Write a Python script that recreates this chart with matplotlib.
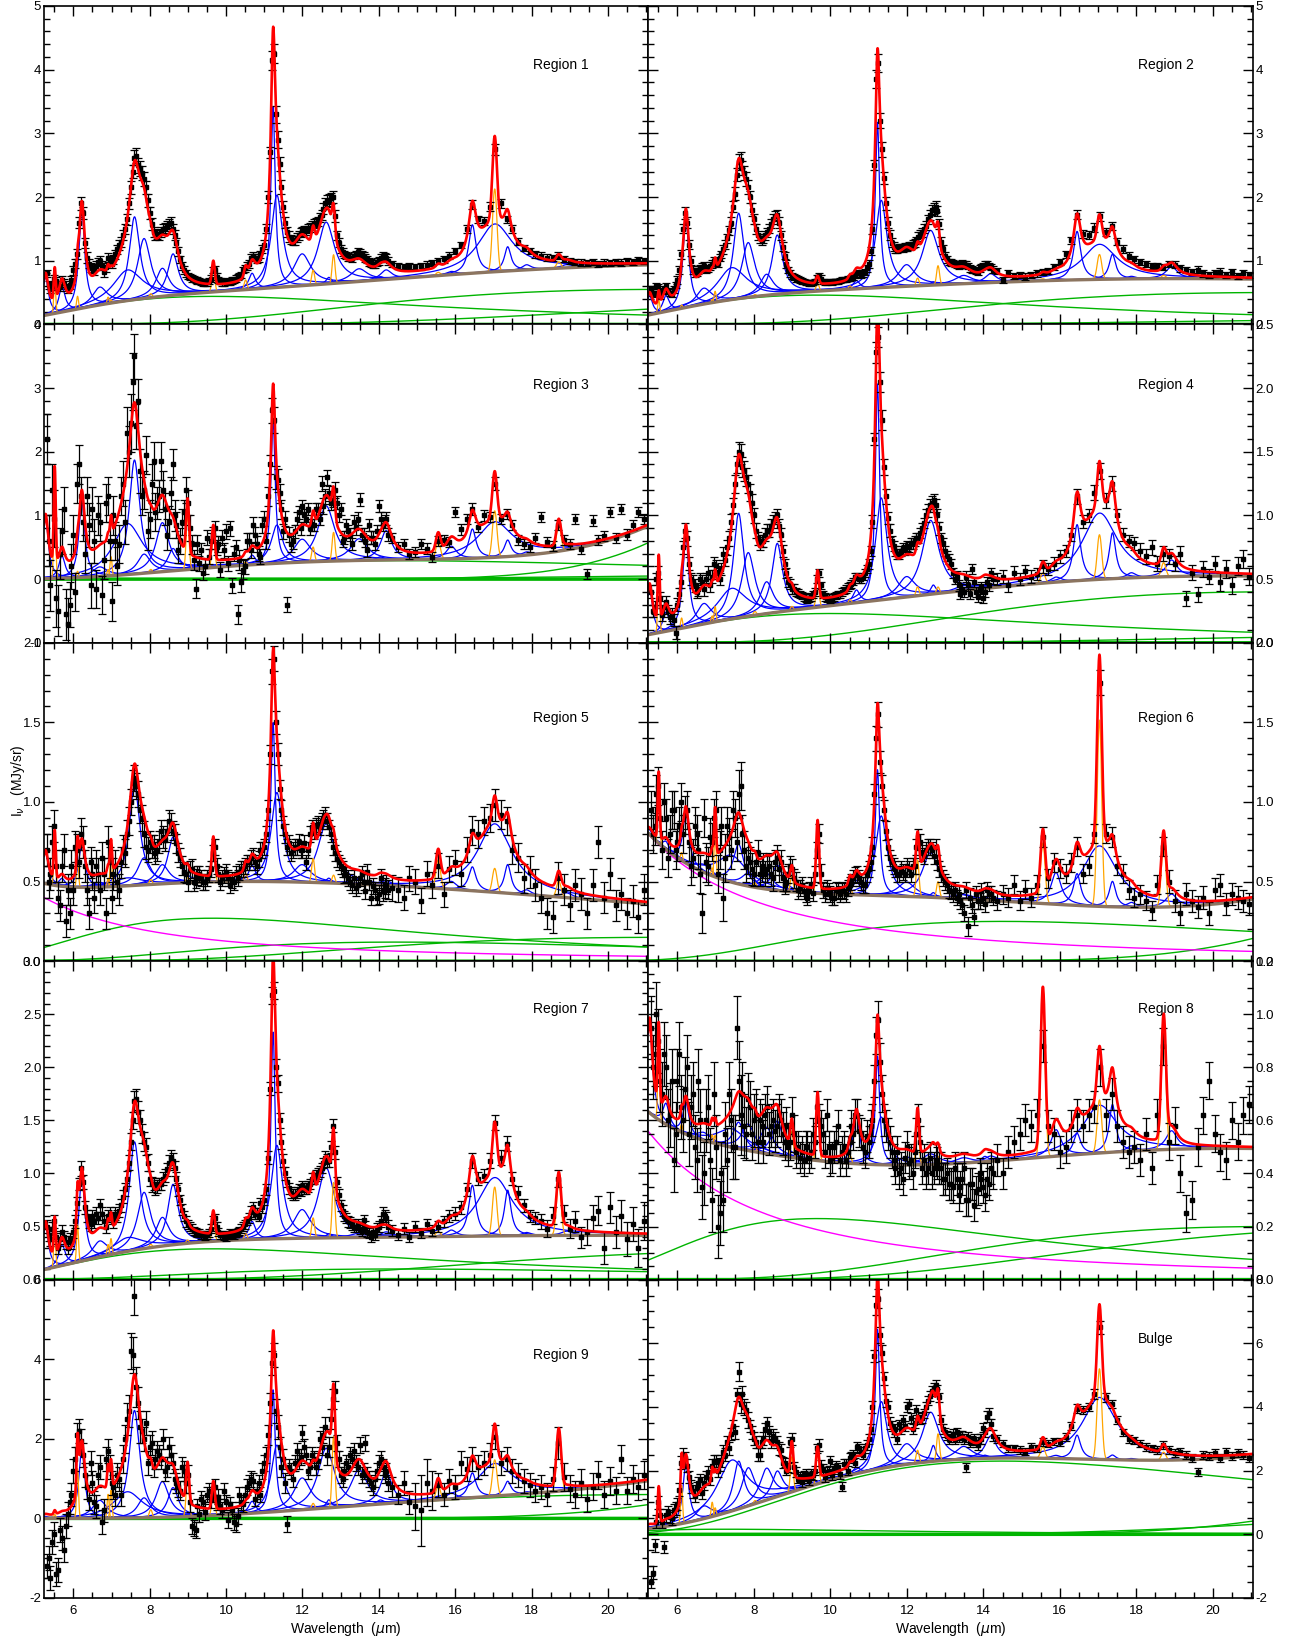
import numpy as np
import matplotlib
matplotlib.use('Agg')
import matplotlib.pyplot as plt
from matplotlib.ticker import MultipleLocator, FormatStrFormatter

plt.rcParams['font.family'] = ['Liberation Sans', 'DejaVu Sans']
plt.rcParams['axes.unicode_minus'] = False

# wavelength grid of the spectra (um): SL then LL
wave = ("5.3 5.4 5.5 5.6 5.7 5.8 5.9 6.0 6.1 6.2 "
        "6.3 6.4 6.5 6.6 6.7 6.8 6.9 7.0 7.1 7.2 "
        "7.3 7.4 7.5 7.6 7.7 7.8 7.9 8.0 8.1 8.2 "
        "8.3 8.4 8.5 8.6 8.7 8.8 8.9 9.0 9.1 9.2 "
        "9.3 9.4 9.5 9.6 9.7 9.8 9.9 10.0 10.1 10.2 "
        "10.3 10.4 10.5 10.6 10.7 10.8 10.9 11.0 11.1 11.2 "
        "11.3 11.4 11.5 11.6 11.7 11.8 11.9 12.0 12.1 12.2 "
        "12.3 12.4 12.5 12.6 12.7 12.8 12.9 13.0 13.1 13.2 "
        "13.3 13.4 13.5 13.6 13.7 13.8 13.9 14.0 14.1 14.2 "
        "14.35 14.5 14.65 14.8 14.95 15.1 15.25 15.4 15.55 15.7 "
        "15.85 16.0 16.15 16.3 16.45 16.6 16.75 16.9 17.05 17.2 "
        "17.35 17.5 17.65 17.8 17.95 18.1 18.25 18.4 18.55 18.7 "
        "18.85 19.0 19.15 19.3 19.45 19.6 19.75 19.9 20.05 20.2 "
        "20.35 20.5 20.65 20.8 20.95")
# interleaved SL samples
wave_mid = ("5.35 5.45 5.55 5.65 5.75 5.85 5.95 6.05 6.15 6.25 "
            "6.35 6.45 6.55 6.65 6.75 6.85 6.95 7.05 7.15 7.25 "
            "7.35 7.45 7.55 7.65 7.75 7.85 7.95 8.05 8.15 8.25 "
            "8.35 8.45 8.55 8.65 8.75 8.85 8.95 9.05 9.15 9.25 "
            "9.35 9.45 9.55 9.65 9.75 9.85 9.95 10.05 10.15 10.25 "
            "10.35 10.45 10.55 10.65 10.75 10.85 10.95 11.05 11.15 11.25 "
            "11.35 11.45 11.55 11.65 11.75 11.85 11.95 12.05 12.15 12.25 "
            "12.35 12.45 12.55 12.65 12.75 12.85 12.95 13.05 13.15 13.25 "
            "13.35 13.45 13.55 13.65 13.75 13.85 13.95 14.05 14.15 14.25")

# PAH features (Drude): centre (um) and fractional FWHM
pah_wave = [5.27, 5.70, 6.22, 6.69, 7.42, 7.60, 7.85, 8.33, 8.61, 10.68, 11.23, 11.33,
            11.99, 12.62, 12.69, 13.48, 14.04, 14.19, 15.90, 16.45, 17.04, 17.375, 17.87, 18.92]
pah_frac = [0.034, 0.035, 0.030, 0.07, 0.126, 0.044, 0.053, 0.05, 0.039, 0.02, 0.012, 0.032,
            0.045, 0.042, 0.013, 0.04, 0.016, 0.025, 0.02, 0.014, 0.065, 0.012, 0.016, 0.019]
# atomic / H2 lines (Gaussian): centre and FWHM (um)
line_wave = [5.511, 6.109, 6.909, 6.985, 8.026, 8.991, 9.665, 10.511, 12.279, 12.814, 15.555, 17.035, 18.713]
line_fwhm = [0.06, 0.06, 0.06, 0.06, 0.09, 0.09, 0.09, 0.09, 0.09, 0.09, 0.14, 0.14, 0.14]

# fit results: PAH peaks, line peaks, dust (T, peak), stellar level at 5.23 um
# spectra: flux and error in units of 0.01 MJy/sr
r1_pah = [0.60, 0.40, 1.52, 0.28, 0.48, 1.30, 0.94, 0.44, 0.65, 0.25, 2.85, 1.45, 0.50, 0.97, 0.10, 0.20, 0.05, 0.15, 0.05, 0.76, 0.75, 0.38, 0.08, 0.05]
r1_line = [0.50, 0.20, 0.10, 0.05, 0.06, 0.00, 0.37, 0.15, 0.23, 0.45, 0.05, 1.30, 0.10]
r1_dust = [(300, 0.44), (135, 0.55), (90, 0.40)]
r1_star = 0.0
r1_flux = ("80 55 72 62 70 58 62 85 110 190 "
           "128 95 88 92 100 82 105 95 110 125 "
           "140 165 215 262 250 238 215 175 145 142 "
           "145 152 158 150 128 102 85 76 72 70 "
           "68 66 66 72 86 70 66 68 67 70 "
           "74 78 88 95 108 102 110 125 200 415 "
           "330 252 185 145 134 132 140 146 148 152 "
           "158 162 172 190 195 200 140 118 110 106 "
           "104 110 112 108 102 96 95 100 108 104 "
           "95 92 90 92 90 91 94 96 100 102 "
           "108 115 125 150 188 165 162 185 275 190 "
           "165 150 130 120 115 110 108 105 104 108 "
           "103 100 98 97 96 98 95 97 96 98 "
           "97 100 98 101 100")
r1_mid = ("62 60 68 58 65 55 70 95 160 175 "
          "105 90 85 98 92 90 100 102 118 130 "
          "150 190 240 265 245 228 195 158 140 140 "
          "150 155 160 140 115 92 80 74 71 69 "
          "67 65 68 85 75 68 66 67 69 72 "
          "76 85 92 105 105 104 118 150 270 425 "
          "290 215 160 138 132 136 144 148 150 156 "
          "160 168 182 194 198 170 128 114 108 105 "
          "108 114 110 104 98 95 98 104 106 100")
r1_err = ("6 6 6 6 6 6 6 7 8 10 "
          "8 7 7 7 7 7 7 7 7 8 "
          "8 9 10 12 12 11 10 9 8 8 "
          "8 8 8 8 7 6 6 5 5 5 "
          "5 5 5 5 6 5 5 5 5 5 "
          "5 5 6 6 6 6 6 7 9 15 "
          "13 11 9 8 7 7 7 7 7 7 "
          "7 7 8 9 9 9 7 6 6 6 "
          "6 6 6 6 6 6 6 6 6 6 "
          "5 5 5 5 5 5 5 5 5 5 "
          "5 5 5 6 7 6 6 7 9 7 "
          "6 6 5 5 5 5 5 5 5 5 "
          "5 5 5 5 5 5 5 5 5 5 "
          "5 5 5 5 5")

r2_pah = [0.30, 0.25, 1.40, 0.25, 0.50, 1.34, 0.86, 0.33, 0.93, 0.13, 2.60, 1.37, 0.34, 0.86, 0.05, 0.13, 0.03, 0.14, 0.03, 0.76, 0.55, 0.39, 0.04, 0.19]
r2_line = [0.20, 0.05, 0.05, 0.17, 0.03, 0.00, 0.12, 0.05, 0.12, 0.30, 0.03, 0.39, 0.05]
r2_dust = [(300, 0.46), (135, 0.50), (90, 0.10)]
r2_star = 0.0
r2_flux = ("55 48 58 52 60 50 55 70 110 175 "
           "125 85 82 88 92 88 95 98 105 118 "
           "135 160 205 255 245 228 200 165 140 132 "
           "140 150 165 172 140 108 85 76 72 70 "
           "67 66 65 68 76 68 66 67 68 68 "
           "70 71 72 75 80 78 82 95 150 385 "
           "320 230 160 128 118 120 120 122 124 128 "
           "138 145 155 172 182 178 130 108 98 96 "
           "94 93 95 92 86 84 88 92 95 90 "
           "84 70 80 76 78 75 78 80 82 84 "
           "90 98 110 132 172 142 140 152 170 145 "
           "155 130 118 108 102 98 95 92 92 90 "
           "95 94 88 85 82 86 80 78 80 83 "
           "78 82 76 80 78")
r2_mid = ("50 60 45 55 52 48 62 85 150 160 "
          "100 80 85 90 86 92 100 96 110 125 "
          "148 185 235 258 238 215 180 150 135 135 "
          "145 158 170 160 122 95 80 74 71 68 "
          "66 65 66 74 72 66 67 66 68 69 "
          "70 72 74 78 80 80 88 115 250 410 "
          "275 190 140 122 118 121 122 123 126 132 "
          "142 150 165 180 185 158 118 102 97 95 "
          "92 96 94 88 85 82 90 94 92 86")
r2_err = ("5 5 5 5 5 5 5 6 7 9 "
          "7 6 6 6 6 6 6 6 6 7 "
          "7 8 10 12 11 11 10 8 7 7 "
          "7 7 8 8 7 6 5 5 5 5 "
          "4 4 4 4 5 4 4 4 4 4 "
          "4 4 4 5 5 5 5 6 8 14 "
          "12 10 8 7 6 6 6 6 6 6 "
          "7 7 7 8 8 8 7 6 5 5 "
          "5 5 5 5 5 5 5 5 5 5 "
          "5 5 5 5 5 5 5 5 5 5 "
          "5 5 6 6 7 6 6 7 7 6 "
          "6 6 6 5 5 5 5 5 5 5 "
          "5 5 5 5 5 5 5 5 5 5 "
          "5 5 5 5 5")

r3_pah = [0.95, 0.35, 1.20, 0.15, 0.80, 1.79, 0.30, 0.77, 0.35, 0.15, 2.25, 0.60, 0.36, 0.87, 0.05, 0.34, 0.05, 0.46, 0.20, 0.46, 0.56, 0.26, 0.05, 0.03]
r3_line = [1.50, 0.10, 0.10, 0.30, 0.05, 0.85, 0.55, 0.05, 0.23, 0.45, 0.28, 0.73, 0.42]
r3_dust = [(200, 0.29), (45, 59.0), (90, 0.08)]
r3_star = 0.0
r3_flux = ("220 -10 95 -50 75 -55 -40 70 150 130 "
           "40 85 110 -15 90 30 130 -35 60 55 "
           "150 230 245 350 280 130 195 95 185 120 "
           "185 110 90 180 85 60 105 120 55 -15 "
           "25 10 65 60 80 55 65 75 80 40 "
           "-55 -5 20 60 85 55 35 95 130 265 "
           "160 135 75 -40 55 75 105 115 95 80 "
           "85 110 150 130 135 125 120 110 65 75 "
           "55 80 125 70 45 65 55 115 85 95 "
           "65 50 55 40 42 55 48 35 60 62 "
           "58 105 78 95 110 82 100 98 150 95 "
           "102 85 62 55 50 65 98 58 52 85 "
           "62 55 95 48 8 92 62 68 105 65 "
           "110 70 85 105 95")
r3_mid = ("60 140 -30 40 110 -70 20 -20 180 90 "
          "130 -10 60 100 -25 120 60 100 20 130 "
          "90 200 310 240 170 140 75 150 105 130 "
          "140 70 135 100 45 90 140 80 30 55 "
          "45 20 35 70 50 15 45 25 -10 50 "
          "30 15 60 45 70 40 85 60 180 250 "
          "155 110 95 70 60 95 80 100 110 85 "
          "110 95 115 160 120 140 100 60 85 70 "
          "90 95 70 60 85 65 75 95 90 70")
r3_err = ("40 40 45 40 35 40 35 30 30 30 "
          "30 35 35 30 30 30 30 30 30 30 "
          "35 40 45 35 35 30 30 30 30 25 "
          "30 25 25 25 20 20 20 20 15 15 "
          "12 12 12 12 12 12 12 12 12 12 "
          "15 15 12 12 12 12 12 12 15 20 "
          "18 15 12 12 12 10 10 10 10 10 "
          "10 10 12 12 12 12 10 10 10 10 "
          "10 10 10 10 10 10 10 10 10 10 "
          "8 8 8 8 8 8 8 8 8 8 "
          "8 8 8 8 10 8 8 8 10 8 "
          "8 8 8 8 8 8 8 8 8 8 "
          "8 8 8 8 8 8 8 8 8 8 "
          "8 8 8 8 8")

r4_pah = [0.37, 0.15, 0.72, 0.16, 0.24, 0.82, 0.50, 0.25, 0.54, 0.10, 1.70, 0.80, 0.16, 0.58, 0.07, 0.04, 0.03, 0.03, 0.04, 0.44, 0.52, 0.36, 0.04, 0.13]
r4_line = [0.50, 0.08, 0.05, 0.12, 0.03, 0.03, 0.22, 0.03, 0.07, 0.05, 0.08, 0.35, 0.11]
r4_dust = [(290, 0.23), (135, 0.40), (90, 0.07)]
r4_star = 0.0
r4_flux = ("40 28 55 22 32 20 18 30 48 88 "
           "62 48 40 50 42 55 52 60 50 70 "
           "75 95 125 150 138 130 118 100 82 80 "
           "85 88 95 100 85 62 48 42 40 38 "
           "36 34 36 40 55 38 35 34 36 38 "
           "40 42 45 48 52 50 55 62 95 228 "
           "205 138 98 80 72 70 74 76 78 80 "
           "82 90 100 108 112 100 82 72 66 55 "
           "52 38 40 45 58 40 42 35 48 55 "
           "50 52 45 55 50 56 52 54 60 58 "
           "62 68 72 85 115 95 100 118 135 112 "
           "125 100 85 80 78 72 68 75 62 70 "
           "68 62 70 35 55 38 58 52 62 48 "
           "58 45 60 66 52")
r4_mid = ("25 50 35 28 25 22 8 38 75 82 "
          "50 45 42 48 50 45 62 55 58 65 "
          "82 108 140 148 135 125 110 88 78 80 "
          "88 92 98 92 72 55 46 42 39 37 "
          "35 35 38 50 45 36 35 35 37 38 "
          "41 44 46 52 50 52 58 72 160 240 "
          "175 115 88 76 70 72 73 75 78 82 "
          "86 94 104 110 108 90 78 68 62 50 "
          "45 42 52 38 48 36 44 40 45 50")
r4_err = ("5 5 5 5 5 5 5 5 5 6 "
          "5 5 5 5 5 5 5 5 5 5 "
          "6 6 7 8 8 7 7 6 5 5 "
          "5 5 5 5 5 4 4 4 3 3 "
          "3 3 3 3 3 3 3 3 3 3 "
          "3 3 3 3 3 3 3 4 5 8 "
          "8 6 5 4 4 4 4 4 4 4 "
          "4 4 5 5 5 5 4 4 4 4 "
          "4 4 4 4 4 4 4 4 4 4 "
          "5 5 5 5 5 5 5 5 5 5 "
          "5 5 5 5 6 5 5 6 6 6 "
          "6 5 5 5 5 6 6 6 6 6 "
          "6 6 6 6 6 6 6 6 6 7 "
          "7 7 7 7 7")

r5_pah = [0.20, 0.05, 0.28, 0.03, 0.05, 0.63, 0.17, 0.12, 0.29, 0.10, 1.00, 0.56, 0.11, 0.37, 0.03, 0.03, 0.02, 0.03, 0.05, 0.15, 0.43, 0.18, 0.03, 0.03]
r5_line = [0.30, 0.18, 0.05, 0.20, 0.03, 0.03, 0.25, 0.05, 0.15, 0.05, 0.18, 0.15, 0.10]
r5_dust = [(300, 0.27), (200, 0.12), (135, 0.15)]
r5_star = 0.40
r5_flux = ("70 55 85 40 60 25 30 45 70 80 "
           "60 30 55 60 45 55 75 40 60 45 "
           "70 80 100 115 105 90 72 75 72 70 "
           "82 76 88 82 74 65 56 50 58 52 "
           "55 50 52 58 72 55 52 56 48 50 "
           "52 58 60 62 66 60 70 72 95 182 "
           "150 108 85 72 68 72 75 70 62 80 "
           "82 86 88 92 84 72 64 60 54 52 "
           "48 46 52 50 56 40 45 42 44 48 "
           "46 45 40 52 50 38 55 48 60 42 "
           "58 62 55 70 82 80 88 90 98 92 "
           "88 70 65 52 56 48 40 30 28 52 "
           "45 35 48 42 30 48 75 40 55 35 "
           "42 30 38 28 45")
r5_mid = ("50 75 60 35 70 45 60 72 62 75 "
          "45 62 40 55 65 30 62 55 50 62 "
          "68 88 112 110 95 80 70 72 68 75 "
          "78 82 86 80 68 60 55 57 50 54 "
          "52 50 55 68 60 50 54 52 51 55 "
          "56 58 62 65 62 64 70 80 130 190 "
          "130 95 80 74 70 72 70 74 70 84 "
          "85 84 90 88 80 68 62 58 55 50 "
          "52 48 55 44 50 47 40 52 46 45")
r5_err = ("10 10 10 10 10 10 10 10 10 10 "
          "10 10 10 10 10 10 10 10 10 10 "
          "9 9 8 8 8 8 8 7 7 7 "
          "7 7 7 6 6 6 6 6 6 6 "
          "5 5 5 5 5 5 5 5 5 5 "
          "5 5 5 5 5 5 5 5 6 8 "
          "7 6 6 5 5 5 5 5 5 5 "
          "5 5 5 5 5 5 5 5 5 5 "
          "5 5 5 5 5 5 5 6 6 6 "
          "8 8 8 8 8 8 8 8 8 8 "
          "8 8 8 8 9 9 9 9 10 9 "
          "9 9 9 9 10 10 10 10 10 10 "
          "10 10 10 10 10 10 10 10 10 10 "
          "10 10 10 10 10")

r6_pah = [0.03, 0.05, 0.32, 0.05, 0.17, 0.25, 0.08, 0.10, 0.16, 0.09, 0.79, 0.50, 0.09, 0.28, 0.03, 0.03, 0.02, 0.03, 0.20, 0.20, 0.38, 0.16, 0.03, 0.08]
r6_line = [0.42, 0.05, 0.05, 0.30, 0.03, 0.10, 0.43, 0.05, 0.23, 0.10, 0.38, 1.17, 0.40]
r6_dust = [(200, 0.25), (50, 5.5)]
r6_star = 0.80
r6_flux = ("95 85 110 70 90 80 95 75 100 92 "
           "75 65 80 55 90 60 75 95 70 40 "
           "85 70 90 105 80 60 62 55 68 58 "
           "55 60 52 65 62 48 55 58 50 46 "
           "44 40 48 55 80 45 46 42 40 44 "
           "45 42 48 52 55 50 48 58 72 140 "
           "125 95 72 62 58 55 56 60 55 60 "
           "78 68 70 72 66 62 55 50 45 42 "
           "40 38 30 22 35 42 38 40 45 42 "
           "38 42 40 48 38 45 40 48 78 52 "
           "62 58 55 62 72 55 60 80 175 80 "
           "78 60 55 45 40 42 38 32 48 72 "
           "50 38 30 42 38 34 40 30 45 48 "
           "36 42 40 38 36")
r6_mid = ("80 105 90 100 65 95 70 85 80 95 "
          "60 85 70 30 62 78 90 55 85 65 "
          "78 95 75 110 70 65 58 62 55 60 "
          "58 55 62 58 52 50 60 52 45 48 "
          "42 45 43 70 55 42 44 40 45 42 "
          "44 46 50 54 52 48 55 62 105 155 "
          "110 82 65 60 55 58 55 58 60 72 "
          "75 66 72 70 72 58 52 48 44 45 "
          "42 35 45 40 28 38 44 36 42 40")
r6_err = ("12 12 12 12 12 12 12 12 12 12 "
          "12 12 12 12 12 12 12 12 12 15 "
          "12 12 12 15 12 10 10 8 8 8 "
          "8 8 8 8 8 6 6 6 6 5 "
          "5 5 5 5 6 5 5 5 5 5 "
          "5 5 5 5 5 5 5 5 6 8 "
          "7 6 5 5 5 5 5 5 5 5 "
          "5 5 5 5 5 5 5 5 5 5 "
          "5 5 5 6 5 5 5 5 5 5 "
          "6 6 6 6 6 6 6 6 6 6 "
          "6 6 6 6 6 6 6 6 8 6 "
          "6 6 6 6 6 6 6 6 6 6 "
          "7 7 7 7 7 7 7 7 7 7 "
          "7 7 7 7 7")

r7_pah = [0.42, 0.20, 0.80, 0.15, 0.13, 1.02, 0.53, 0.27, 0.57, 0.17, 1.95, 0.88, 0.27, 0.66, 0.04, 0.04, 0.02, 0.05, 0.06, 0.48, 0.55, 0.43, 0.03, 0.04]
r7_line = [0.35, 0.35, 0.10, 0.15, 0.03, 0.03, 0.22, 0.06, 0.19, 0.52, 0.05, 0.46, 0.51]
r7_dust = [(300, 0.29), (200, 0.10), (110, 0.28)]
r7_star = 0.0
r7_flux = ("50 38 55 30 45 35 38 45 72 105 "
           "68 55 60 62 70 55 60 58 62 65 "
           "78 95 130 168 158 138 125 95 90 88 "
           "90 98 110 112 95 75 60 52 48 45 "
           "44 42 42 48 58 45 42 40 44 42 "
           "45 48 52 58 68 62 72 75 115 268 "
           "200 150 112 92 82 80 85 88 86 90 "
           "95 100 105 115 112 145 92 70 60 55 "
           "52 50 48 56 45 40 42 50 62 58 "
           "46 42 48 40 50 44 52 46 50 55 "
           "60 62 68 85 112 95 98 112 148 115 "
           "128 95 82 70 60 58 55 48 60 95 "
           "62 48 55 40 45 58 65 30 68 45 "
           "60 38 52 30 55")
r7_mid = ("42 48 40 38 40 30 35 55 90 92 "
          "60 52 55 58 62 50 62 55 60 70 "
          "85 110 150 170 150 130 110 90 86 90 "
          "95 104 115 105 85 66 55 50 46 44 "
          "42 41 44 56 50 42 41 42 43 44 "
          "46 50 55 64 62 60 68 85 180 272 "
          "185 130 100 86 80 82 84 86 88 95 "
          "98 102 110 112 125 120 80 65 58 54 "
          "50 52 46 50 44 45 48 55 60 50")
r7_err = ("6 6 6 6 6 6 6 6 6 7 "
          "6 6 6 6 6 6 6 6 6 6 "
          "6 7 8 10 10 9 8 7 6 6 "
          "6 6 7 7 6 5 5 4 4 4 "
          "4 4 4 4 4 4 4 4 4 4 "
          "4 4 4 5 5 5 5 5 6 8 "
          "8 7 6 5 5 5 5 5 5 5 "
          "5 5 5 6 6 6 5 5 5 5 "
          "5 5 5 5 5 5 5 5 6 6 "
          "5 5 5 5 5 5 5 5 5 5 "
          "6 6 6 6 7 6 6 7 7 7 "
          "7 6 6 6 6 6 7 8 8 8 "
          "8 9 10 10 12 12 14 15 15 15 "
          "15 16 16 18 18")

r8_pah = [0.35, 0.08, 0.12, 0.03, 0.07, 0.10, 0.10, 0.10, 0.13, 0.18, 0.41, 0.18, 0.03, 0.04, 0.03, 0.02, 0.02, 0.02, 0.10, 0.08, 0.18, 0.18, 0.02, 0.07]
r8_line = [0.30, 0.03, 0.03, 0.03, 0.02, 0.10, 0.24, 0.03, 0.17, 0.03, 0.60, 0.20, 0.46]
r8_dust = [(300, 0.23), (135, 0.20), (110, 0.20)]
r8_star = 0.56
r8_flux = ("95 85 90 70 80 62 45 75 65 72 "
           "55 70 45 60 40 65 30 50 25 30 "
           "45 60 50 75 70 55 65 60 52 58 "
           "62 55 60 58 60 52 50 62 48 46 "
           "45 50 48 52 60 55 62 45 50 58 "
           "48 45 52 55 62 55 48 52 60 92 "
           "82 60 55 48 42 40 38 50 45 48 "
           "60 42 40 46 42 44 42 38 36 35 "
           "38 35 42 30 36 33 40 35 38 42 "
           "45 40 48 52 55 60 58 62 88 58 "
           "55 48 50 58 62 58 62 65 80 62 "
           "70 58 52 48 50 45 55 42 62 88 "
           "52 58 40 25 30 50 62 75 55 48 "
           "45 60 52 62 66")
r8_mid = ("80 100 75 85 60 75 55 85 60 80 "
          "65 50 75 35 60 45 70 20 40 55 "
          "70 50 95 62 58 68 55 62 60 52 "
          "65 58 56 62 55 58 52 55 50 48 "
          "50 46 55 65 58 48 50 46 52 45 "
          "50 48 58 62 56 50 54 58 75 98 "
          "70 58 52 45 48 42 46 44 40 55 "
          "52 45 42 40 45 42 38 40 36 42 "
          "32 38 30 36 28 34 38 32 36 40")
r8_err = ("12 12 12 12 12 12 12 12 12 12 "
          "12 12 12 12 12 12 12 12 12 12 "
          "12 12 12 15 12 10 10 10 8 8 "
          "8 8 8 8 8 7 7 7 6 6 "
          "6 6 6 6 6 6 6 6 6 6 "
          "6 6 6 6 6 6 6 6 6 7 "
          "7 6 6 6 6 6 6 6 6 6 "
          "6 6 6 6 6 6 6 6 6 6 "
          "6 6 6 6 6 6 6 6 6 6 "
          "6 6 6 6 6 6 6 6 6 6 "
          "6 6 6 6 6 6 6 6 7 6 "
          "6 6 6 6 6 6 6 6 6 7 "
          "7 7 7 7 7 7 7 7 7 7 "
          "7 7 7 7 7")

r9_pah = [0.05, 0.05, 1.75, 0.45, 0.66, 2.70, 0.50, 0.90, 0.74, 0.30, 3.07, 1.67, 0.80, 1.50, 0.20, 0.90, 0.10, 0.80, 0.15, 0.62, 0.82, 0.35, 0.05, 0.05]
r9_line = [0.10, 1.25, 0.60, 0.70, 0.20, 1.00, 0.70, 0.05, 0.14, 1.78, 0.35, 0.91, 1.45]
r9_dust = [(135, 0.60), (50, 13.3)]
r9_star = 0.0
r9_flux = ("-120 -150 -40 -130 -50 -20 40 120 210 195 "
           "110 50 90 30 130 20 170 90 60 100 "
           "150 250 420 560 290 220 240 180 130 170 "
           "150 120 180 140 90 70 120 110 -20 -30 "
           "10 40 60 45 80 55 20 40 35 -10 "
           "5 40 60 90 95 70 60 140 210 390 "
           "270 180 150 -15 120 140 145 215 160 130 "
           "150 145 180 230 180 300 190 110 120 130 "
           "150 140 185 120 110 90 100 140 130 120 "
           "80 60 90 40 30 20 90 70 85 60 "
           "95 80 140 125 150 130 140 160 205 140 "
           "150 120 110 95 85 70 80 60 100 190 "
           "105 75 60 90 50 80 110 60 95 70 "
           "150 70 100 80 110")
r9_mid = ("-100 -60 -140 -30 -80 10 60 150 220 160 "
          "80 140 40 110 -10 150 130 80 110 60 "
          "200 270 410 330 230 200 140 190 150 160 "
          "200 130 160 100 80 130 90 40 -25 30 "
          "50 15 70 60 40 30 70 -5 20 -15 "
          "60 35 80 100 50 90 120 160 290 410 "
          "230 130 90 130 100 170 155 180 120 160 "
          "130 200 210 160 250 320 150 100 140 160 "
          "170 130 110 190 100 80 120 150 110 90")
r9_err = ("30 30 30 30 30 30 30 30 30 30 "
          "30 30 30 30 30 30 30 30 30 30 "
          "35 40 45 50 40 30 30 30 25 25 "
          "25 25 25 25 25 25 25 25 20 20 "
          "20 20 20 20 20 20 20 20 20 20 "
          "20 20 20 20 20 20 20 20 25 30 "
          "30 25 25 20 20 20 20 20 20 20 "
          "20 20 20 25 25 25 20 20 20 20 "
          "20 20 20 20 20 20 20 20 20 20 "
          "25 25 30 30 60 90 60 50 30 30 "
          "30 30 30 30 30 30 30 30 30 30 "
          "30 30 30 30 30 30 30 30 30 40 "
          "35 35 35 35 35 35 35 35 35 35 "
          "35 35 35 35 35")

bulge_pah = [0.05, 0.05, 1.85, 0.40, 1.60, 1.50, 1.20, 1.00, 0.80, 0.20, 4.40, 2.10, 0.65, 1.55, 0.50, 0.40, 0.10, 0.70, 0.10, 0.75, 1.95, 0.15, 0.05, 0.05]
bulge_line = [1.15, 1.20, 0.45, 0.25, 0.10, 1.10, 0.95, 0.10, 0.40, 0.85, 0.35, 2.85, 0.25]
bulge_dust = [(200, 2.30), (400, 0.16), (50, 16.0), (70, 1.3)]
bulge_star = 0.0
bulge_flux = ("-150 -35 100 40 60 55 75 95 225 240 "
              "180 135 145 170 160 195 215 230 220 260 "
              "290 315 320 510 440 390 340 300 250 290 "
              "330 320 310 290 265 225 210 300 195 180 "
              "185 175 190 200 280 205 195 230 205 210 "
              "150 220 240 250 275 260 270 300 400 720 "
              "625 490 400 340 330 345 360 400 365 350 "
              "370 365 400 435 460 455 360 320 300 315 "
              "320 310 300 305 295 290 300 335 370 345 "
              "300 285 270 270 265 260 275 270 290 285 "
              "292 290 305 340 395 390 400 440 650 430 "
              "410 360 320 300 295 285 275 270 265 280 "
              "265 255 260 250 240 195 250 245 255 240 "
              "260 245 255 250 240")
bulge_mid = ("-120 40 60 -40 70 50 80 140 250 215 "
             "150 120 160 130 180 175 230 200 230 250 "
             "270 340 440 410 400 360 320 290 250 300 "
             "350 290 300 270 225 200 290 210 175 165 "
             "190 170 185 270 215 180 200 185 215 190 "
             "220 200 245 225 270 250 280 330 560 740 "
             "570 420 350 320 300 330 340 410 330 390 "
             "360 380 420 450 470 430 330 310 305 300 "
             "305 310 210 290 300 280 300 320 380 310")
bulge_err = ("20 20 20 20 20 20 20 20 20 20 "
             "20 20 20 20 20 20 20 20 20 20 "
             "20 20 20 30 25 25 20 20 20 20 "
             "20 20 20 20 18 15 15 18 15 15 "
             "15 15 15 15 18 15 15 15 15 15 "
             "15 15 15 15 15 15 15 15 20 30 "
             "25 20 18 15 15 15 15 15 15 15 "
             "15 15 15 15 15 15 15 15 15 15 "
             "15 15 15 15 15 15 15 15 18 18 "
             "12 12 12 12 12 12 12 12 12 12 "
             "12 12 12 12 15 12 12 15 20 15 "
             "12 12 12 12 12 12 12 12 12 12 "
             "12 12 12 12 12 12 12 12 12 12 "
             "12 12 12 12 12")

names = ['Region 1', 'Region 2', 'Region 3', 'Region 4', 'Region 5',
         'Region 6', 'Region 7', 'Region 8', 'Region 9', 'Bulge']
fits = [(r1_pah, r1_line, r1_dust, r1_star, r1_flux, r1_mid, r1_err),
        (r2_pah, r2_line, r2_dust, r2_star, r2_flux, r2_mid, r2_err),
        (r3_pah, r3_line, r3_dust, r3_star, r3_flux, r3_mid, r3_err),
        (r4_pah, r4_line, r4_dust, r4_star, r4_flux, r4_mid, r4_err),
        (r5_pah, r5_line, r5_dust, r5_star, r5_flux, r5_mid, r5_err),
        (r6_pah, r6_line, r6_dust, r6_star, r6_flux, r6_mid, r6_err),
        (r7_pah, r7_line, r7_dust, r7_star, r7_flux, r7_mid, r7_err),
        (r8_pah, r8_line, r8_dust, r8_star, r8_flux, r8_mid, r8_err),
        (r9_pah, r9_line, r9_dust, r9_star, r9_flux, r9_mid, r9_err),
        (bulge_pah, bulge_line, bulge_dust, bulge_star, bulge_flux, bulge_mid, bulge_err)]

# axis setup for each panel
ylims = [(0, 5), (0, 5), (-1, 4), (0, 2.5), (0, 2), (0, 2), (0, 3), (0, 1.2), (-2, 6), (-2, 8)]
ymajor = [1, 1, 1, 0.5, 0.5, 0.5, 0.5, 0.2, 2, 2]
yminor = [0.2, 0.2, 0.2, 0.1, 0.1, 0.1, 0.1, 0.05, 0.5, 0.5]
yfmt = ['%d', '%d', '%d', '%.1f', '%.1f', '%.1f', '%.1f', '%.1f', '%d', '%d']
label_y = [0.816, 0.816, 0.81, 0.81, 0.764, 0.764, 0.85, 0.85, 0.763, 0.812]


def vals(s, scale=100.0):
    return np.array(s.split(), float) / scale


def drude(lam, lam0, frac, peak):
    return peak * frac**2 / ((lam / lam0 - lam0 / lam)**2 + frac**2)


def gauss(lam, lam0, fwhm, peak):
    sig = fwhm / 2.3548
    return peak * np.exp(-0.5 * ((lam - lam0) / sig)**2)


def dust_bb(lam, T, amp):
    # modified blackbody (emissivity ~ lambda^-2), normalised to its peak
    x = 14388.0 / (lam * T)
    return amp * x**5 / np.expm1(x) / 21.20


def star_bb(lam, amp):
    # 5000 K stellar blackbody, scaled at 5.23 um
    x = 14388.0 / (lam * 5000.0)
    x0 = 14388.0 / (5.23 * 5000.0)
    return amp * (x**3 / np.expm1(x)) / (x0**3 / np.expm1(x0))


def continuum(lam, fit):
    c = star_bb(lam, fit[3])
    for T, a in fit[2]:
        c = c + dust_bb(lam, T, a)
    return c


def total(lam, fit):
    m = continuum(lam, fit)
    for l0, fr, h in zip(pah_wave, pah_frac, fit[0]):
        m = m + drude(lam, l0, fr, h)
    for l0, fw, h in zip(line_wave, line_fwhm, fit[1]):
        m = m + gauss(lam, l0, fw, h)
    return m


W, H = 1289, 1637
fig = plt.figure(figsize=(W / 100, H / 100), dpi=100)
col_x = [44, 648]
col_w = [604, 605]
row_top, row_h = 6, 318.4
lam = np.linspace(5.23, 21.05, 3000)
wl = np.concatenate([vals(wave, 1.0), vals(wave_mid, 1.0)])

green = '#00b400'
for i, fit in enumerate(fits):
    row, col = i // 2, i % 2
    ax = fig.add_axes([col_x[col] / W, 1 - (row_top + (row + 1) * row_h) / H,
                       col_w[col] / W, row_h / H])
    cont = continuum(lam, fit)

    # dust components, stellar component
    for T, a in fit[2]:
        ax.plot(lam, dust_bb(lam, T, a), color=green, lw=1.0, zorder=1)
    ax.plot(lam, np.zeros_like(lam), color=green, lw=2.5, zorder=1)
    if fit[3] > 0:
        ax.plot(lam, star_bb(lam, fit[3]), color='#ff00ff', lw=1.0, zorder=1)

    for l0, fr, h in zip(pah_wave, pah_frac, fit[0]):
        ax.plot(lam, cont + drude(lam, l0, fr, h), color='#0000ff', lw=0.9, zorder=2)
    for l0, fw, h in zip(line_wave, line_fwhm, fit[1]):
        sel = np.abs(lam - l0) < 2.2 * fw
        ax.plot(lam[sel], cont[sel] + gauss(lam[sel], l0, fw, h), color='#ffa500', lw=0.9, zorder=2)
    ax.plot(lam, cont, color='#8c7560', lw=2.4, zorder=3)

    # observed spectrum; SL errors also apply to the interleaved samples
    err = vals(fit[6])
    flux = np.concatenate([vals(fit[4]), vals(fit[5])])
    ax.errorbar(wl, flux, yerr=np.concatenate([err, err[:90]]), fmt='s', ms=2.4, color='k',
                ecolor='k', elinewidth=0.9, capsize=2.6, capthick=0.9, zorder=4)
    ax.plot(lam, total(lam, fit), color='#ff0000', lw=1.9, zorder=5)

    ax.set_xlim(5.23, 21.05)
    ax.set_ylim(*ylims[i])
    ax.xaxis.set_major_locator(MultipleLocator(2))
    ax.xaxis.set_minor_locator(MultipleLocator(0.5))
    ax.yaxis.set_major_locator(MultipleLocator(ymajor[i]))
    ax.yaxis.set_minor_locator(MultipleLocator(yminor[i]))
    ax.yaxis.set_major_formatter(FormatStrFormatter(yfmt[i]))
    ax.tick_params(which='both', direction='in', top=True, bottom=True, left=True, right=True,
                   labelsize=9.5, width=1.0, pad=2)
    ax.tick_params(which='major', length=7)
    ax.tick_params(which='minor', length=4)
    ax.tick_params(axis='x', labelbottom=(row == 4), pad=5)
    if col == 1:
        ax.tick_params(axis='y', labelleft=False, labelright=True)
    for s in ax.spines.values():
        s.set_linewidth(1.2)
        s.set_zorder(6)
    ax.text(0.81, label_y[i], names[i], transform=ax.transAxes, fontsize=10,
            ha='left', va='center', zorder=7)
    if row == 4:
        ax.set_xlabel(r'Wavelength  ($\mu$m)', fontsize=10, labelpad=2)

fig.text(17.7 / W, 1 - 781 / H, r'I$_\nu$   (MJy/sr)', rotation=90, fontsize=10,
         ha='center', va='center')

fig.savefig('out.png', dpi=100)
